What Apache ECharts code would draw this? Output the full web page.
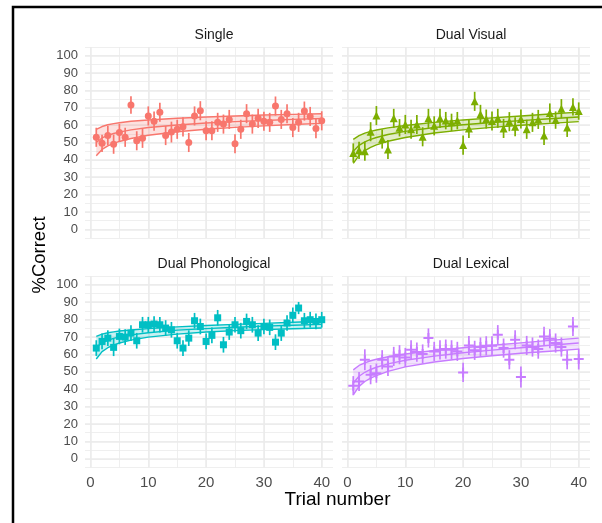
<!DOCTYPE html>
<html>
<head>
<meta charset="utf-8">
<script src="https://cdn.jsdelivr.net/npm/echarts@6/dist/echarts.min.js"></script>
<style>
  html, body { margin: 0; padding: 0; background: #fff; }
  #chart { width: 602px; height: 523px; }
</style>
</head>
<body>
<div id="chart"></div>
<script>
// trials 1..40
const trials = [1,2,3,4,5,6,7,8,9,10,11,12,13,14,15,16,17,18,19,20,
                21,22,23,24,25,26,27,28,29,30,31,32,33,34,35,36,37,38,39,40];
const panelNames = ['Single', 'Dual Visual', 'Dual Phonological', 'Dual Lexical'];
const panelColors = ['#F8766D', '#7CAE00', '#00BFC4', '#C77CFF'];
const yTicks = [0, 10, 20, 30, 40, 50, 60, 70, 80, 90, 100];
const xTicks = [0, 10, 20, 30, 40];

// mean % correct per trial
const singleMean = [53,49.5,54,49,55.7,53,71.6,51,52.4,65.3,62.3,67.4,54,56,57.6,59,50,65.3,68.3,56.8,
                    56.8,61.6,60.6,63.3,49.3,57.6,66.6,60.6,63.9,62.2,61.6,71,63.3,66.6,58.6,61.6,68.1,65,58,62.5];
const singleSe = [5.5,5,5.5,5.5,5,5.5,5,5.5,5.5,5.5,5.5,5.5,5.5,6,5.5,5.5,5.5,5.5,5.5,5.5,
                  5.5,5.5,5.5,5.5,5.5,5.5,5.5,5.5,5.5,5.5,5.5,5.5,5.5,5.5,5.5,5.5,5.5,5.5,5.5,5.5];
const visualMean = [44,45.5,45,56.2,65.5,52,46,63.9,58.5,60.4,57.6,60.4,53.3,63.9,59.6,63.9,62.6,61.6,62.6,48.5,
                    58.1,73.7,66.2,63.5,62.4,63.9,58.1,62,59.1,63.5,57.6,61.6,63.3,54,67,62.9,69.5,58.7,70.5,68.1];
const visualSe = [5.5,5,5.5,5.5,5.5,5.5,5.5,5.5,5,5.5,5.5,5.5,5.5,5.5,5.5,5.5,5,5,5,5.5,
                  5.5,5.5,5.5,5.5,5.5,5.5,5.5,5.5,5.5,5.5,5.5,5.5,5.5,5.5,5.5,5,5.5,5.5,5,5];
const phonoMean = [63.6,67.4,69.3,64,70.3,69.9,72.2,67.8,77,77,77.4,77,75.1,74.1,67.8,63.6,69.3,79.3,76,67.4,
                   70.9,81,65.5,72.8,77,73.6,78.9,77,72.2,76,75.5,67,72.2,78,82.4,86.6,79.3,79.9,78.9,79.9];
const phonoSe = [4.5,4.5,4.5,5,4.5,4.5,4.5,4.5,4.5,4.5,4.5,4.5,4.5,4.5,4.5,4.5,4.5,4.5,4.5,4.5,
                 4.5,4.5,4.5,4.5,4.5,4.5,4.5,4.5,4.5,4.5,4.5,4.5,4.5,4.5,4.5,3.5,4.5,4.5,4.5,4.5];
const lexicalMean = [42,44.4,56.9,48.3,49.2,56.9,53,58.8,59.8,58.2,62.6,61.3,60.2,69.4,61.7,62.6,63,62.6,61.7,49.6,
                     65.1,62.3,64.2,64.9,64.9,71.3,63.6,56.9,68.4,47,65.1,64.2,63,70.3,69,66.5,64.2,56.9,76,57.3];
const lexicalSe = [5.5,5.5,6,5.5,5.5,5.5,5.5,5.5,5.5,5.5,5.5,5.5,5.5,5.5,5.5,5.5,5.5,5.5,5.5,5.5,
                   5.5,5.5,5.5,5.5,5.5,5.5,5.5,5.5,5.5,6,5.5,5.5,5.5,5.5,5.5,5.5,5.5,5.5,5.5,6];

// fitted curve with confidence band, read at these trials
const fitTrials = [1, 2, 3, 4, 5, 7, 10, 15, 20, 25, 30, 35, 40];
const singleUpper = [57.5,59.2,60.2,60.9,61.4,62.2,63.0,64.0,64.7,65.3,65.8,66.2,66.6];
const singleFit   = [50.0,52.6,54.1,55.2,56.0,57.3,58.6,60.1,61.2,62.0,62.7,63.3,63.8];
const singleLower = [42.4,46.0,48.0,49.5,50.6,52.3,54.2,56.2,57.6,58.7,59.6,60.4,61.0];
const visualUpper = [51.8,54.0,55.4,56.4,57.2,58.4,59.8,61.6,63.0,64.2,65.3,66.4,67.5];
const visualFit   = [45.0,48.4,50.4,51.8,52.9,54.6,56.4,58.6,60.2,61.5,62.6,63.7,64.7];
const visualLower = [38.0,42.6,45.3,47.2,48.6,50.7,52.9,55.5,57.3,58.7,59.9,61.0,62.0];
const phonoUpper  = [70.3,71.6,72.4,72.9,73.4,74.0,74.8,75.8,76.6,77.2,77.8,78.4,79.0];
const phonoFit    = [64.0,66.6,68.1,69.2,70.0,71.2,72.4,73.9,74.8,75.6,76.2,76.7,77.2];
const phonoLower  = [57.3,61.6,63.8,65.3,66.5,68.2,69.9,71.6,72.8,73.6,74.2,74.7,75.1];
const lexicalUpper = [51.1,53.6,55.1,56.3,57.2,58.6,60.2,62.2,63.8,65.2,66.6,68.0,69.3];
const lexicalFit   = [43.5,47.4,49.7,51.3,52.6,54.5,56.6,59.0,60.9,62.4,63.8,65.2,66.5];
const lexicalLower = [36.8,41.6,44.4,46.3,47.8,50.2,52.8,55.6,57.6,59.2,60.6,61.8,63.0];

const panels = [
  { mean: singleMean, se: singleSe, up: singleUpper, fit: singleFit, lo: singleLower, symbol: 'circle', size: 7 },
  { mean: visualMean, se: visualSe, up: visualUpper, fit: visualFit, lo: visualLower, symbol: 'triangle', size: 8 },
  { mean: phonoMean, se: phonoSe, up: phonoUpper, fit: phonoFit, lo: phonoLower, symbol: 'rect', size: 7 },
  { mean: lexicalMean, se: lexicalSe, up: lexicalUpper, fit: lexicalFit, lo: lexicalLower,
    symbol: 'path://M4,0H6V4H10V6H6V10H4V6H0V4H4Z', size: 10 }
];

const boxes = [
  { left: 85, top: 47, width: 248, height: 191 },
  { left: 342, top: 47, width: 248, height: 191 },
  { left: 85, top: 276, width: 248, height: 191.5 },
  { left: 342, top: 276, width: 248, height: 191.5 }
];

const gridColor = '#EBEBEB';
const labelColor = '#4D4D4D';
const font = 'Liberation Sans, Arial, Helvetica, sans-serif';

const grids = [], xAxes = [], yAxes = [], series = [], titles = [];

panels.forEach((p, k) => {
  const color = panelColors[k];
  const bottomRow = k >= 2;
  const leftCol = k % 2 === 0;
  grids.push(boxes[k]);

  titles.push({
    text: panelNames[k],
    left: boxes[k].left + boxes[k].width / 2,
    top: boxes[k].top - 24,
    textAlign: 'center',
    textStyle: { fontFamily: font, fontSize: 14, fontWeight: 'normal', color: '#1A1A1A' }
  });

  // minor grid lines (every 5)
  xAxes.push({
    type: 'value', gridIndex: k, position: 'bottom', min: -0.95, max: 41.95, splitNumber: 8,
    axisLine: { show: false }, axisTick: { show: false }, axisLabel: { show: false },
    splitLine: { show: true, showMinLine: false, showMaxLine: false, lineStyle: { color: gridColor, width: 0.8 } }
  });
  // major grid lines + labels (every 10)
  xAxes.push({
    type: 'value', gridIndex: k, position: 'bottom', min: -0.95, max: 41.95, splitNumber: 4,
    axisLine: { show: false }, axisTick: { show: false },
    axisLabel: {
      show: bottomRow, margin: 8, color: labelColor, fontFamily: font, fontSize: 15,
      showMinLabel: false, showMaxLabel: false,
      formatter: v => (xTicks.indexOf(v) >= 0 ? String(v) : '')
    },
    splitLine: { show: true, showMinLine: false, showMaxLine: false, lineStyle: { color: gridColor, width: 1.5 } }
  });
  yAxes.push({
    type: 'value', gridIndex: k, position: 'left', min: -5, max: 105, interval: 5,
    axisLine: { show: false }, axisTick: { show: false }, axisLabel: { show: false },
    splitLine: { show: true, lineStyle: { color: gridColor, width: 0.8 } }
  });
  yAxes.push({
    type: 'value', gridIndex: k, position: 'left', min: -5, max: 105, splitNumber: 11,
    axisLine: { show: false }, axisTick: { show: false },
    axisLabel: {
      show: leftCol, margin: 7, color: labelColor, fontFamily: font, fontSize: 13,
      showMinLabel: false, showMaxLabel: false,
      formatter: v => (yTicks.indexOf(v) >= 0 ? String(v) : '')
    },
    splitLine: { show: true, showMinLine: false, showMaxLine: false, lineStyle: { color: gridColor, width: 1.5 } }
  });

  const xi = 2 * k + 1, yi = 2 * k + 1;

  // confidence band as one polygon
  series.push({
    type: 'custom', xAxisIndex: xi, yAxisIndex: yi, silent: true, z: 3,
    data: fitTrials.map((t, i) => [t, p.lo[i], p.up[i]]),
    renderItem: (params, api) => {
      if (params.dataIndex !== 0) return null;
      const pts = [];
      fitTrials.forEach((t, i) => pts.push(api.coord([t, p.up[i]])));
      for (let i = fitTrials.length - 1; i >= 0; i--) pts.push(api.coord([fitTrials[i], p.lo[i]]));
      return {
        type: 'polygon',
        shape: { points: pts },
        style: { fill: color, opacity: 0.22, stroke: 'none' }
      };
    }
  });
  [p.up, p.fit, p.lo].forEach(arr => {
    series.push({
      type: 'line', xAxisIndex: xi, yAxisIndex: yi, smooth: false,
      symbol: 'none', silent: true, z: 3,
      lineStyle: { color: color, width: 1.4 },
      data: fitTrials.map((t, i) => [t, arr[i]])
    });
  });

  // error bars
  series.push({
    type: 'custom', xAxisIndex: xi, yAxisIndex: yi, silent: true, z: 4,
    data: trials.map((t, i) => [t, p.mean[i] - p.se[i], p.mean[i] + p.se[i]]),
    renderItem: (params, api) => {
      const a = api.coord([api.value(0), api.value(1)]);
      const b = api.coord([api.value(0), api.value(2)]);
      return {
        type: 'line',
        shape: { x1: a[0], y1: a[1], x2: b[0], y2: b[1] },
        style: { stroke: color, lineWidth: 1.7 }
      };
    }
  });

  // points
  series.push({
    type: 'scatter', xAxisIndex: xi, yAxisIndex: yi, silent: true, z: 5,
    symbol: p.symbol, symbolSize: p.size,
    itemStyle: { color: color, opacity: 1 },
    data: trials.map((t, i) => [t, p.mean[i]])
  });
});

const chart = echarts.init(document.getElementById('chart'), null, { renderer: 'canvas' });
chart.setOption({
  animation: false,
  backgroundColor: '#fff',
  title: titles,
  grid: grids,
  xAxis: xAxes,
  yAxis: yAxes,
  series: series,
  graphic: [
    {
      type: 'rect', silent: true,
      shape: { x: 13, y: 7, width: 620, height: 540 },
      style: { fill: 'none', stroke: '#000', lineWidth: 2.5 }
    },
    {
      type: 'text', silent: true, x: 337.5, y: 500,
      style: { text: 'Trial number', fontFamily: font, fontSize: 19, fill: '#000', align: 'center', verticalAlign: 'middle' }
    },
    {
      type: 'text', silent: true, x: 40, y: 255, rotation: Math.PI / 2,
      style: { text: '%Correct', fontFamily: font, fontSize: 18.5, fill: '#000', align: 'center', verticalAlign: 'middle' }
    }
  ]
});
</script>
</body>
</html>
